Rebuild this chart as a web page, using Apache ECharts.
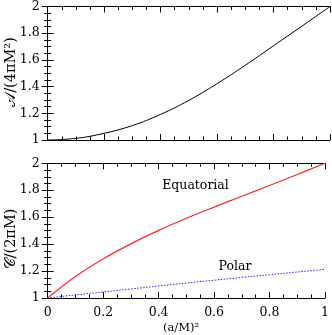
<!DOCTYPE html>
<html>
<head>
<meta charset="UTF-8">
<script src="https://cdn.jsdelivr.net/npm/echarts@6/dist/echarts.min.js"></script>
<style>
  body { margin: 0; padding: 0; background: #fff; }
  #chart { width: 332px; height: 335px; }
</style>
</head>
<body>
<div id="chart"></div>
<script>
// (a/M)^2 sample points
var xs = [0, 0.1, 0.2, 0.3, 0.4, 0.5, 0.6, 0.7, 0.8, 0.9, 1];
// top panel: A/(4 pi M^2)
var area = [1.000, 1.012, 1.050, 1.108, 1.192, 1.297, 1.422, 1.560, 1.706, 1.852, 2.000];
// bottom panel: C/(2 pi M)
var equatorial = [1.000, 1.160, 1.290, 1.402, 1.502, 1.592, 1.675, 1.755, 1.835, 1.917, 2.000];
var polar = [1.000, 1.023, 1.045, 1.067, 1.089, 1.111, 1.132, 1.153, 1.173, 1.193, 1.213];

var font = 'DejaVu Serif';

function pairs(ys) {
  var out = [];
  for (var i = 0; i < xs.length; i++) out.push([xs[i], ys[i]]);
  return out;
}

function xAxisFor(grid, pos, labels) {
  return {
    type: 'value', gridIndex: grid, position: pos, min: 0, max: 1, interval: 0.2,
    axisLine: { show: true, lineStyle: { color: '#000', width: 1 } },
    axisTick: { show: true, inside: true, length: 6, lineStyle: { color: '#000' } },
    minorTick: { show: true, splitNumber: 4, length: 3.5, lineStyle: { color: '#000' } },
    splitLine: { show: false },
    axisLabel: { show: labels, margin: 8, color: '#000', fontFamily: font, fontSize: 12.5 }
  };
}

function yAxisFor(grid, pos, labels) {
  return {
    type: 'value', gridIndex: grid, position: pos, min: 1, max: 2, interval: 0.2,
    axisLine: { show: true, lineStyle: { color: '#000', width: 1 } },
    axisTick: { show: true, inside: true, length: 6, lineStyle: { color: '#000' } },
    minorTick: { show: true, splitNumber: 4, length: 3.5, lineStyle: { color: '#000' } },
    splitLine: { show: false },
    axisLabel: { show: labels, margin: 8, color: '#000', fontFamily: font, fontSize: 12.5 }
  };
}

var chart = echarts.init(document.getElementById('chart'));
chart.setOption({
  animation: false,
  backgroundColor: '#fff',
  grid: [
    { left: 47.7, right: 2, top: 5, height: 135 },
    { left: 47.7, right: 2, top: 163.3, height: 134.7 }
  ],
  xAxis: [
    xAxisFor(0, 'bottom', false), xAxisFor(0, 'top', false),
    xAxisFor(1, 'bottom', true), xAxisFor(1, 'top', false)
  ],
  yAxis: [
    yAxisFor(0, 'left', true), yAxisFor(0, 'right', false),
    yAxisFor(1, 'left', true), yAxisFor(1, 'right', false)
  ],
  series: [
    {
      type: 'line', xAxisIndex: 0, yAxisIndex: 0, data: pairs(area), smooth: 0.4,
      showSymbol: false, lineStyle: { color: '#000', width: 1 }
    },
    {
      type: 'line', xAxisIndex: 2, yAxisIndex: 2, data: pairs(equatorial), smooth: 0.4,
      showSymbol: false, lineStyle: { color: '#ff2a2a', width: 1.2 }
    },
    {
      type: 'line', xAxisIndex: 2, yAxisIndex: 2, data: pairs(polar), smooth: 0.4,
      showSymbol: false, lineStyle: { color: '#2a2aff', width: 1, type: [1.5, 1.5] }
    }
  ],
  graphic: [
    { type: 'text', x: 11.5, y: 72, rotation: Math.PI / 2,
      style: { text: '𝒜/(4πM²)', fontFamily: font, fontSize: 14.5, fill: '#000', align: 'center', verticalAlign: 'middle' } },
    { type: 'text', x: 11.5, y: 239, rotation: Math.PI / 2,
      style: { text: '𝒞/(2πM)', fontFamily: font, fontSize: 14.5, fill: '#000', align: 'center', verticalAlign: 'middle' } },
    { type: 'text', x: 181, y: 328,
      style: { text: '(a/M)²', fontFamily: font, fontSize: 11.5, fill: '#000', align: 'center', verticalAlign: 'middle' } },
    { type: 'text', x: 195.5, y: 186,
      style: { text: 'Equatorial', fontFamily: font, fontSize: 12.5, fill: '#000', align: 'center', verticalAlign: 'middle' } },
    { type: 'text', x: 235, y: 267,
      style: { text: 'Polar', fontFamily: font, fontSize: 12.5, fill: '#000', align: 'center', verticalAlign: 'middle' } }
  ]
});
</script>
</body>
</html>
